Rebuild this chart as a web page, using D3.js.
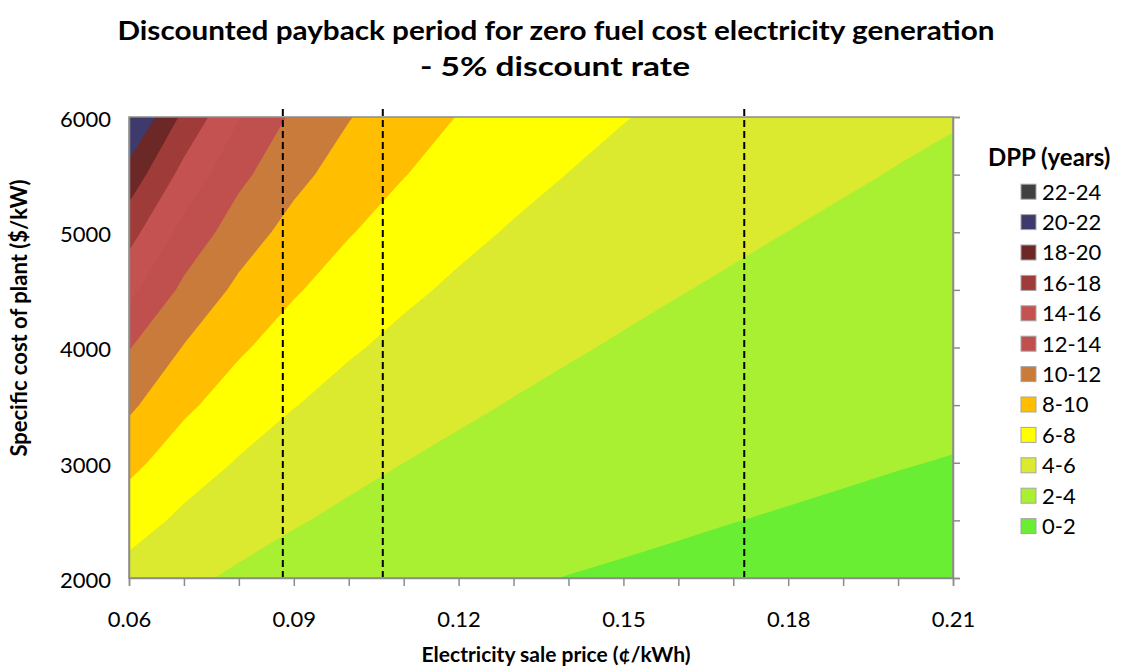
<!DOCTYPE html>
<html>
<head>
<meta charset="utf-8">
<script src="https://cdn.jsdelivr.net/npm/d3@7"></script>
<style>
  html, body { margin: 0; padding: 0; background: #ffffff; }
  svg { display: block; font-family: Lato, "Open Sans", sans-serif; }
</style>
</head>
<body>
<svg id="chart" width="1141" height="671"></svg>
<script>
// Grid columns: electricity sale price; grid rows: specific plant cost
const prices = [0.06, 0.07, 0.08, 0.09, 0.10, 0.11, 0.12, 0.13, 0.14, 0.15, 0.16, 0.17, 0.18, 0.19, 0.20, 0.21];
const costs = [2000, 2500, 3000, 3500, 4000, 4500, 5000, 5500, 6000];

// Discounted payback period (years) at each price, one array per plant cost
const dpp2000 = [5.27, 4.36, 3.72, 3.24, 2.87, 2.58, 2.34, 2.14, 1.97, 1.83, 1.71, 1.60, 1.50, 1.42, 1.34, 1.28];
const dpp2500 = [6.83, 5.61, 4.76, 4.14, 3.66, 3.28, 2.97, 2.71, 2.50, 2.32, 2.16, 2.02, 1.90, 1.79, 1.69, 1.61];
const dpp3000 = [8.52, 6.94, 5.86, 5.07, 4.47, 4.00, 3.62, 3.30, 3.04, 2.81, 2.62, 2.45, 2.30, 2.17, 2.05, 1.95];
const dpp3500 = [10.36, 8.37, 7.03, 6.06, 5.32, 4.75, 4.29, 3.91, 3.59, 3.32, 3.09, 2.89, 2.71, 2.55, 2.41, 2.29];
const dpp4000 = [12.10, 9.90, 8.26, 7.09, 6.21, 5.53, 4.98, 4.53, 4.16, 3.84, 3.57, 3.33, 3.13, 2.95, 2.78, 2.64];
const dpp4500 = [14.50, 11.56, 9.57, 8.18, 7.14, 6.34, 5.70, 5.18, 4.74, 4.38, 4.06, 3.79, 3.55, 3.35, 3.16, 2.99];
const dpp5000 = [16.70, 13.36, 10.98, 9.32, 8.11, 7.18, 6.44, 5.84, 5.35, 4.93, 4.57, 4.26, 3.99, 3.75, 3.54, 3.35];
const dpp5500 = [19.20, 15.34, 12.48, 10.54, 9.13, 8.06, 7.21, 6.53, 5.97, 5.49, 5.09, 4.74, 4.44, 4.17, 3.93, 3.72];
const dpp6000 = [22.30, 17.52, 14.10, 11.65, 10.09, 8.88, 7.94, 7.24, 6.61, 6.07, 5.62, 5.23, 4.89, 4.59, 4.33, 4.10];

// Contour bands (lower bound of each 2-year band), labels and fills
const bandLower = [0, 2, 4, 6, 8, 10, 12, 14, 16, 18, 20, 22];
const bandLabels = ["0-2", "2-4", "4-6", "6-8", "8-10", "10-12", "12-14", "14-16", "16-18", "18-20", "20-22", "22-24"];
const bandColors = ["#69ee34", "#a9f032", "#dbea2e", "#ffff00", "#ffbe00", "#c97b3b",
                    "#c0504d", "#c45250", "#9f3b39", "#6b2826", "#3f3a6c", "#404040"];

// Axis tick labels
const priceLabels = [0.06, 0.09, 0.12, 0.15, 0.18, 0.21];
const costLabels = [2000, 3000, 4000, 5000, 6000];

// Reference prices marked with dashed lines
const markerPrices = [0.088, 0.1062, 0.172];

const title1 = "Discounted payback period for zero fuel cost electricity generation";
const title2 = "- 5% discount rate";

const svg = d3.select("#chart");
const plotLeft = 129, plotRight = 953, plotTop = 117, plotBottom = 578;

const x = d3.scaleLinear().domain([prices[0], prices[prices.length - 1]]).range([plotLeft, plotRight]);
const y = d3.scaleLinear().domain([costs[0], costs[costs.length - 1]]).range([plotBottom, plotTop]);

// Grid sample i sits at contour coordinate i + 0.5
const nx = prices.length, ny = costs.length;
const gx = d3.scaleLinear().domain([0.5, nx - 0.5]).range([x(prices[0]), x(prices[nx - 1])]);
const gy = d3.scaleLinear().domain([0.5, ny - 0.5]).range([y(costs[0]), y(costs[ny - 1])]);

const grid = [dpp2000, dpp2500, dpp3000, dpp3500, dpp4000, dpp4500, dpp5000, dpp5500, dpp6000];
const values = grid.flat();

const bands = d3.contours().size([nx, ny]).thresholds(bandLower)(values);
const path = d3.geoPath(d3.geoTransform({
  point(a, b) { this.stream.point(gx(a), gy(b)); }
}));

svg.append("defs").append("clipPath").attr("id", "plotClip")
  .append("rect").attr("x", plotLeft).attr("y", plotTop)
  .attr("width", plotRight - plotLeft).attr("height", plotBottom - plotTop);

svg.append("g").attr("clip-path", "url(#plotClip)")
  .selectAll("path").data(bands).join("path")
  .attr("d", path)
  .attr("fill", d => bandColors[bandLower.indexOf(d.value)])
  .attr("stroke", "none");

// Plot frame
svg.append("rect")
  .attr("x", plotLeft).attr("y", plotTop)
  .attr("width", plotRight - plotLeft).attr("height", plotBottom - plotTop)
  .attr("fill", "none").attr("stroke", "#8c8c8c").attr("stroke-width", 1.5);

// Bottom axis: a tick at every price, labels every 0.03
const xAxis = d3.axisBottom(x)
  .tickValues(prices)
  .tickSize(8)
  .tickPadding(25)
  .tickFormat(d => priceLabels.some(p => Math.abs(p - d) < 1e-9) ? d3.format(".2f")(d) : "");
const gxAxis = svg.append("g").attr("transform", `translate(0,${plotBottom})`).call(xAxis);
gxAxis.select(".domain").attr("stroke", "#8c8c8c").attr("stroke-width", 1.5);
gxAxis.selectAll(".tick line").attr("stroke", "#8c8c8c").attr("stroke-width", 1.5);
gxAxis.selectAll(".tick text").attr("fill", "#000").style("font-size", "22px").style("font-family", "Lato, sans-serif");

// Left axis: labels only
const yAxis = d3.axisLeft(y).tickValues(costLabels).tickSize(0).tickPadding(18).tickFormat(d3.format("d"));
const gyAxis = svg.append("g").attr("transform", `translate(${plotLeft},0)`).call(yAxis);
gyAxis.select(".domain").attr("stroke", "#8c8c8c").attr("stroke-width", 1.5);
gyAxis.selectAll(".tick text").attr("fill", "#000").attr("dy", "0.42em")
  .style("font-size", "22px").style("font-family", "Lato, sans-serif");

// Right axis: series ticks every 500
const rAxis = d3.axisRight(y).tickValues(costs).tickSize(7).tickFormat("");
const grAxis = svg.append("g").attr("transform", `translate(${plotRight},0)`).call(rAxis);
grAxis.select(".domain").attr("stroke", "#8c8c8c").attr("stroke-width", 1.5);
grAxis.selectAll(".tick line").attr("stroke", "#8c8c8c").attr("stroke-width", 1.5);

// Dashed reference lines
svg.append("g").selectAll("line").data(markerPrices).join("line")
  .attr("x1", d => x(d)).attr("x2", d => x(d))
  .attr("y1", plotTop - 8).attr("y2", plotBottom - 1)
  .attr("stroke", "#000").attr("stroke-width", 2).attr("stroke-dasharray", "7,4");

// Titles
svg.append("text").attr("x", 556).attr("y", 40).attr("text-anchor", "middle")
  .attr("font-weight", "bold").attr("font-size", 26)
  .attr("textLength", 877).attr("lengthAdjust", "spacingAndGlyphs")
  .text(title1);
svg.append("text").attr("x", 555).attr("y", 76).attr("text-anchor", "middle")
  .attr("font-weight", "bold").attr("font-size", 26)
  .attr("textLength", 270).attr("lengthAdjust", "spacingAndGlyphs")
  .text(title2);

// Axis titles
svg.append("text").attr("x", 556).attr("y", 662).attr("text-anchor", "middle")
  .attr("font-weight", "bold").attr("font-size", 21)
  .text("Electricity sale price (\u00a2/kWh)");
svg.append("text")
  .attr("transform", "translate(27,318) rotate(-90)")
  .attr("text-anchor", "middle")
  .attr("font-weight", "bold").attr("font-size", 22)
  .text("Specific cost of plant ($/kW)");

// Legend, highest band at the top
const legend = svg.append("g");
legend.append("text").attr("x", 988).attr("y", 166)
  .attr("font-weight", "bold").attr("font-size", 24).text("DPP (years)");
const order = d3.range(bandLower.length).reverse();
const item = legend.selectAll("g.item").data(order).join("g").attr("class", "item")
  .attr("transform", (d, i) => `translate(1021,${191.7 + i * 30.4})`);
item.append("rect").attr("x", 0).attr("y", -7.5).attr("width", 15).attr("height", 15)
  .attr("fill", d => bandColors[d]).attr("stroke", "#a6a6a6").attr("stroke-width", 1);
item.append("text").attr("x", 21).attr("y", 0).attr("dy", "0.36em")
  .attr("font-size", 22).text(d => bandLabels[d]);
</script>
</body>
</html>
